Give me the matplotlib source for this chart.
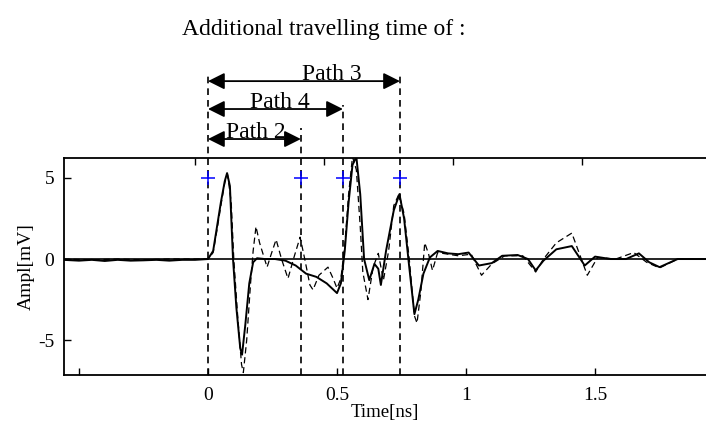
import matplotlib
matplotlib.use("Agg")
import matplotlib.pyplot as plt

plt.rcParams['font.family'] = ['Liberation Serif', 'DejaVu Serif']

# measured signal (solid) and simulated signal (dashed), time in ns, amplitude in mV
t_solid = [-0.56, -0.5, -0.45, -0.4, -0.35, -0.3, -0.25, -0.2, -0.15, -0.1, -0.05, 0.0,
           0.02, 0.035, 0.05, 0.065, 0.074, 0.085, 0.097, 0.11, 0.125, 0.132, 0.145, 0.16,
           0.175, 0.19, 0.22, 0.26, 0.30, 0.34, 0.38, 0.42, 0.46, 0.50, 0.515, 0.53, 0.545,
           0.56, 0.575, 0.59, 0.605, 0.625, 0.645, 0.66, 0.67, 0.69, 0.72, 0.742, 0.76, 0.78,
           0.80, 0.815, 0.835, 0.86, 0.89, 0.93, 0.97, 1.01, 1.05, 1.1, 1.14, 1.2, 1.24, 1.27,
           1.3, 1.35, 1.41, 1.46, 1.5, 1.56, 1.62, 1.67, 1.71, 1.75, 1.82, 1.93]
a_solid = [-0.05, -0.1, -0.05, -0.12, -0.05, -0.1, -0.08, -0.05, -0.1, -0.05, -0.05, 0.0,
           0.5, 2.0, 3.5, 4.8, 5.3, 4.5, 0.0, -3.0, -5.5, -5.9, -4.0, -1.5,
           -0.2, 0.05, 0.0, 0.0, -0.1, -0.4, -0.9, -1.1, -1.5, -2.1, -1.5, 0.5, 3.5,
           5.8, 6.3, 4.0, 0.0, -1.3, -0.3, -0.6, -1.6, 0.5, 3.0, 4.0, 2.5, -0.5,
           -3.4, -2.5, -0.9, 0.1, 0.5, 0.35, 0.3, 0.4, -0.4, -0.25, 0.2, 0.25, 0.0, -0.7,
           -0.1, 0.6, 0.8, -0.4, 0.15, 0.0, 0.0, 0.35, -0.2, -0.5, 0.0, 0.0]

t_dash = [-0.56, -0.45, -0.35, -0.25, -0.15, -0.05, 0.0, 0.02, 0.035, 0.05, 0.065, 0.076,
          0.09, 0.10, 0.115, 0.13, 0.137, 0.15, 0.165, 0.175, 0.186, 0.20, 0.229, 0.245,
          0.264, 0.285, 0.31, 0.335, 0.357, 0.375, 0.395, 0.407, 0.43, 0.465, 0.485, 0.50,
          0.515, 0.53, 0.545, 0.56, 0.575, 0.59, 0.60, 0.62, 0.64, 0.66, 0.68, 0.70, 0.72,
          0.74, 0.76, 0.78, 0.80, 0.81, 0.825, 0.84, 0.855, 0.87, 0.89, 0.93, 0.97, 1.02,
          1.06, 1.1, 1.15, 1.22, 1.27, 1.3, 1.35, 1.41, 1.47, 1.51, 1.58, 1.65, 1.7, 1.75,
          1.82, 1.93]
a_dash = [0.0, -0.05, 0.0, -0.05, 0.0, 0.0, 0.0, 0.4, 1.8, 3.3, 4.7, 5.2,
          3.5, 0.0, -3.5, -6.5, -7.0, -5.0, -1.5, 0.5, 2.0, 1.0, -0.5, 0.3,
          1.2, 0.0, -1.2, 0.2, 1.35, 0.0, -1.6, -1.9, -1.0, -0.5, -1.2, -1.8,
          -1.2, 0.8, 4.0, 6.3, 5.5, 2.0, -0.8, -2.5, -0.5, 0.35, -1.3, 0.5, 3.3,
          4.0, 2.8, 0.0, -3.5, -3.95, -2.0, 1.0, 0.3, -0.7, 0.4, 0.3, 0.2, 0.3,
          -1.0, -0.3, 0.2, 0.2, -0.8, 0.0, 1.0, 1.6, -1.0, 0.1, 0.0, 0.4, -0.2, -0.55,
          0.0, 0.0]

# arrival times of the paths and the annotation layout
path_names = ["Path 3", "Path 4", "Path 2"]
path_times = [0.744, 0.523, 0.36]
arrow_levels = [10.97, 9.25, 7.4]
line_tops = [11.4, 9.5, 8.1]
label_x = [0.48, 0.279, 0.186]
marker_times = [0.0, 0.36, 0.523, 0.744]
marker_amp = 5

fig = plt.figure(figsize=(7.06, 4.28), dpi=100)
ax = fig.add_axes([64 / 706, 53 / 428, 1 - 64 / 706, 217 / 428])

ax.axhline(0, color='black', lw=1.2)
ax.plot(t_dash, a_dash, color='black', lw=0.9, linestyle=(0, (5, 3)))
ax.plot(t_solid, a_solid, color='black', lw=1.4)
ax.plot(marker_times, [marker_amp] * len(marker_times), '+', color='blue',
        markersize=10, markeredgewidth=1.1, zorder=5)

ymin, ymax = -7.15, 6.23
ax.set_xlim(-0.558, 1.93)
ax.set_ylim(ymin, ymax)

# dashed verticals reaching up to the arrows
ax.plot([0, 0], [ymin, 11.5], color='black', lw=1.2, linestyle=(0, (4, 3)), clip_on=False)
for t, top in zip(path_times, line_tops):
    ax.plot([t, t], [ymin, top], color='black', lw=1.2, linestyle=(0, (4, 3)), clip_on=False)

for name, t, lev, lx in zip(path_names, path_times, arrow_levels, label_x):
    ax.annotate('', xy=(t, lev), xytext=(0, lev), annotation_clip=False,
                arrowprops=dict(arrowstyle='<|-|>', color='black', lw=1.3,
                                mutation_scale=25, shrinkA=0, shrinkB=0))
    ax.text(lx, lev + 0.08, name, ha='center', va='baseline', fontsize=17)

fig.text(324 / 706, 1 - 30 / 428, 'Additional travelling time of :', ha='center',
         va='center', fontsize=17)

ax.set_xticks([-0.5, 0, 0.5, 1, 1.5])
ax.set_xticklabels(['', '0', '0.5', '1', '1.5'])
ax.set_yticks([-5, 0, 5])
ax.set_yticklabels(['-5', '0', '5'])
ax.tick_params(direction='in', length=5, width=1.0, labelsize=14)
ax.tick_params(axis='x', pad=9)
ax.tick_params(axis='y', pad=7)
ax.spines['right'].set_visible(False)
for s in ['left', 'top', 'bottom']:
    ax.spines[s].set_linewidth(1.3)

sec = ax.secondary_xaxis('top', functions=(lambda x: x + 0.05, lambda x: x - 0.05))
sec.set_xticks([0, 0.5, 1, 1.5])
sec.tick_params(direction='in', length=5, width=1.0, labeltop=False)
sec.spines['top'].set_visible(False)

ax.set_xlabel('Time[ns]', fontsize=13.5, labelpad=0)
ax.set_ylabel('Ampl[mV]', fontsize=14, labelpad=2)

fig.savefig('out.png', dpi=100)
